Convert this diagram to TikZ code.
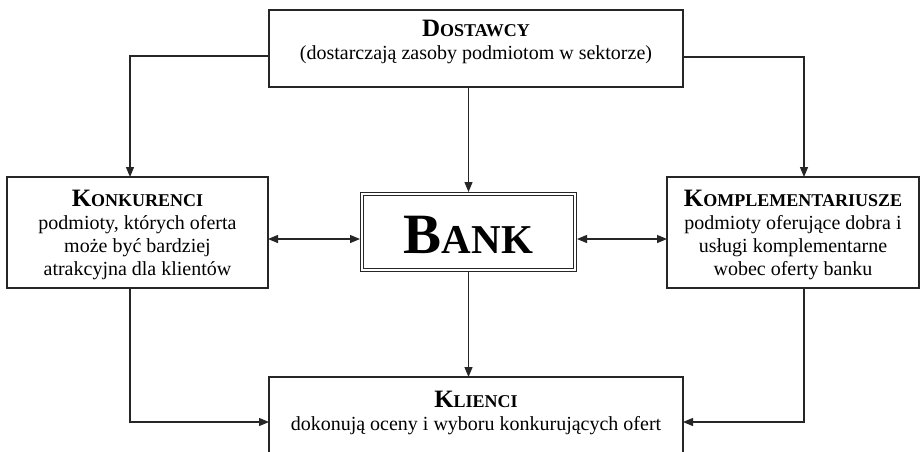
\documentclass[tikz,border=0pt]{standalone}
\usepackage{fontspec}
\setmainfont{Liberation Serif}
\usetikzlibrary{arrows.meta}

% small-caps style heading: large initial, smaller remaining capitals
\newcommand\hdrcaps[2]{{\bfseries\fontsize{25}{28}\selectfont #1\fontsize{18}{28}\selectfont #2}}

\begin{document}
\begin{tikzpicture}[x=1pt,y=-1pt,
  box/.style={draw=black!85, line width=1.2pt, inner sep=0pt, outer sep=0pt, fill=white},
  txt/.style={align=center, inner sep=0pt, font=\fontsize{20}{23}\selectfont},
  conn/.style={draw=black!85, line width=1.2pt},
  arr/.style={conn, -{Triangle[length=10pt,width=8pt]}},
  arrs/.style={conn, {Triangle[length=10pt,width=8pt]}-{Triangle[length=10pt,width=8pt]}},
  bankbox/.style={draw=black!85, line width=1pt, double=white, double distance=2pt,
                  inner sep=0pt, outer sep=2pt}]

\clip (0,0) rectangle (920,451);
\fill[white] (0,0) rectangle (920,451);

% boxes
\node[box, minimum width=414pt, minimum height=77pt] (dost) at (476,48.5) {};
\node[box, minimum width=261pt, minimum height=111pt] (konk) at (137.5,232.5) {};
\node[box, minimum width=252pt, minimum height=111pt] (komp) at (793,232.5) {};
\node[box, minimum width=414pt, minimum height=103pt] (kli) at (476,428.5) {};
\node[bankbox, minimum width=213pt, minimum height=76pt] (bank) at (468.5,232) {};

% texts
\node[txt] (dostT) at (476,42) {\hdrcaps{D}{OSTAWCY}\\(dostarczają zasoby podmiotom w sektorze)};
\node[txt] (konkT) at (137.5,235) {\hdrcaps{K}{ONKURENCI}\\podmioty, których oferta\\może być bardziej\\atrakcyjna dla klientów};
\node[txt] (kompT) at (793,235) {\hdrcaps{K}{OMPLEMENTARIUSZE}\\podmioty oferujące dobra i\\usługi komplementarne\\wobec oferty banku};
\node[txt] (kliT) at (476,413) {\hdrcaps{K}{LIENCI}\\dokonują oceny i wyboru konkurujących ofert};
\node[inner sep=0pt, font=\bfseries] (bankT) at (468.5,234.5)
  {\fontsize{57}{60}\selectfont B\fontsize{41}{60}\selectfont ANK};

% connectors
\draw[arr] ([yshift=-7.5pt]dost.west) -| ([xshift=-7.5pt]konk.north);
\draw[arr] ([yshift=-8.5pt]dost.east) -| ([xshift=11pt]komp.north);
\draw[arr] (dost.south -| bank.north) -- (bank.north);
\draw[arrs] ([yshift=-6.5pt]konk.east) -- ([yshift=-7pt]bank.west);
\draw[arrs] ([yshift=-7pt]bank.east) -- ([yshift=-6.5pt]komp.west);
\draw[arr] (bank.south) -- (bank.south |- kli.north);
\draw[arr] ([xshift=-7.5pt]konk.south) |- ([yshift=6.5pt]kli.west);
\draw[arr] ([xshift=11pt]komp.south) |- ([yshift=6.5pt]kli.east);

\end{tikzpicture}
\end{document}
